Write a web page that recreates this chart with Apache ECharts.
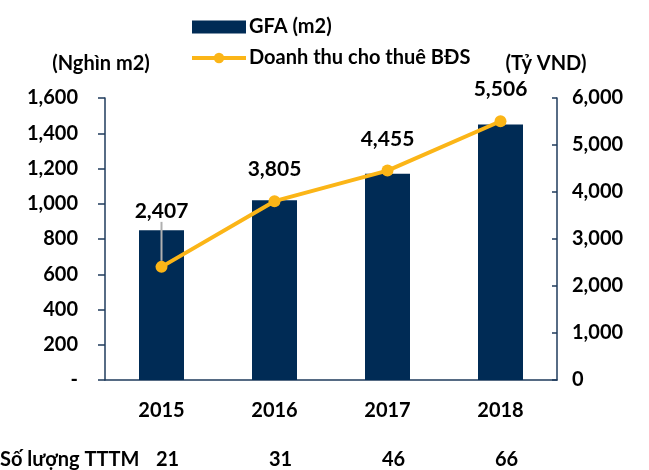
<!DOCTYPE html>
<html>
<head>
<meta charset="utf-8">
<script src="https://cdn.jsdelivr.net/npm/echarts@6/dist/echarts.min.js"></script>
<style>
  html, body { margin: 0; padding: 0; background: #fff; }
  #main { width: 649px; height: 470px; }
</style>
</head>
<body>
<div id="main"></div>
<script>
var years = ['2015', '2016', '2017', '2018'];
var gfa = [850, 1020, 1170, 1450];
var revenue = [2407, 3805, 4455, 5506];
var mallCount = ['21', '31', '46', '66'];

var FONT = 'Lato';
var navy = '#002b55';
var gold = '#fbb517';
var axisCol = '#1f3b5c';
var fmt = function (v) { return v.toLocaleString('en-US'); };

var myChart = echarts.init(document.getElementById('main'));
var option = {
  animation: false,
  textStyle: { fontFamily: FONT },
  legend: {
    orient: 'vertical',
    left: 185,
    top: 12,
    itemWidth: 54,
    itemHeight: 13,
    itemGap: 11,
    textStyle: { fontFamily: FONT, fontSize: 20, fontWeight: 'bold', color: '#000', padding: [0, 0, 0, -2] },
    data: [
      { name: 'GFA (m2)', icon: 'rect' },
      {
        name: 'Doanh thu cho thuê BĐS',
        lineStyle: { color: gold, width: 4 },
        itemStyle: { color: gold }
      }
    ]
  },
  grid: { left: 105, right: 92, top: 98, bottom: 89 },
  xAxis: [
    {
      type: 'category',
      data: years,
      axisLine: { lineStyle: { color: axisCol, width: 1.5 } },
      axisTick: { show: false },
      axisLabel: { margin: 21, fontSize: 20, fontWeight: 'bold', color: '#000', fontFamily: FONT }
    },
    {
      type: 'category',
      data: mallCount,
      position: 'bottom',
      offset: 60,
      axisLine: { show: false },
      axisTick: { show: false },
      axisLabel: { margin: 10, fontSize: 20, fontWeight: 'bold', color: '#000', fontFamily: FONT, padding: [0, 0, 0, 12] }
    }
  ],
  yAxis: [
    {
      type: 'value',
      min: 0, max: 1600, interval: 200,
      name: '(Nghìn m2)',
      nameLocation: 'end',
      nameGap: 24,
      nameTextStyle: { fontFamily: FONT, fontSize: 20, fontWeight: 'bold', color: '#000', align: 'center', padding: [0, 8, 0, 0] },
      axisLine: { show: true, lineStyle: { color: axisCol, width: 1.5 } },
      axisTick: { show: true, length: 7, lineStyle: { color: axisCol, width: 1.5 } },
      splitLine: { show: false },
      axisLabel: {
        margin: 27, fontSize: 20, fontWeight: 'bold', color: '#000', fontFamily: FONT,
        formatter: function (v) { return v === 0 ? '-' : fmt(v); }
      }
    },
    {
      type: 'value',
      min: 0, max: 6000, interval: 1000,
      name: '(Tỷ VND)',
      nameLocation: 'end',
      nameGap: 24,
      nameTextStyle: { fontFamily: FONT, fontSize: 20, fontWeight: 'bold', color: '#000', align: 'center', padding: [0, 22, 0, 0] },
      axisLine: { show: true, lineStyle: { color: axisCol, width: 1.5 } },
      axisTick: { show: true, inside: true, length: 5, lineStyle: { color: axisCol, width: 1.5 } },
      splitLine: { show: false },
      axisLabel: {
        margin: 15, fontSize: 20, fontWeight: 'bold', color: '#000', fontFamily: FONT,
        formatter: function (v) { return fmt(v); }
      }
    }
  ],
  graphic: [
    {
      type: 'text',
      left: 0,
      top: 450,
      style: { text: 'Số lượng TTTM', fontFamily: FONT, fontSize: 20, fontWeight: 'bold', fill: '#000' }
    }
  ],
  series: [
    {
      name: 'GFA (m2)',
      type: 'bar',
      xAxisIndex: 0,
      yAxisIndex: 0,
      barWidth: 45,
      itemStyle: { color: navy },
      data: gfa
    },
    {
      name: 'Doanh thu cho thuê BĐS',
      type: 'line',
      xAxisIndex: 0,
      yAxisIndex: 1,
      symbol: 'circle',
      symbolSize: 12,
      lineStyle: { color: gold, width: 4 },
      itemStyle: { color: gold },
      label: {
        show: true,
        position: 'top',
        distance: 15,
        fontSize: 21,
        fontWeight: 'bold',
        color: '#000',
        fontFamily: FONT,
        formatter: function (p) { return fmt(p.value); }
      },
      labelLine: { show: false },
      labelLayout: function (p) {
        return p.dataIndex === 0 ? { dy: -24 } : {};
      },
      data: revenue.map(function (v, i) {
        return i === 0
          ? { value: v, labelLine: { show: true, lineStyle: { color: '#b0b0b0', width: 2 } } }
          : v;
      })
    }
  ]
};
myChart.setOption(option);
</script>
</body>
</html>
